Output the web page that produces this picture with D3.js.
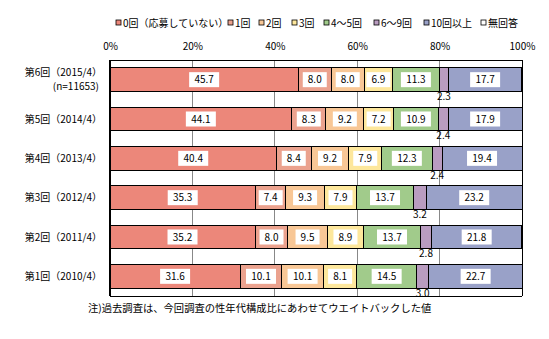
<!DOCTYPE html>
<html><head><meta charset="utf-8">
<script src="https://cdn.jsdelivr.net/npm/d3@7"></script>
<style>body{margin:0;background:#fff;}text{font-family:"Noto Sans CJK JP","DejaVu Sans",sans-serif;}</style>
</head><body>
<svg id="c" width="549" height="339"></svg>
<script>
const categories = ["第6回（2015/4）","第5回（2014/4）","第4回（2013/4）","第3回（2012/4）","第2回（2011/4）","第1回（2010/4）"];
const seriesNames = ["0回（応募していない）","1回","2回","3回","4～5回","6～9回","10回以上","無回答"];
const s0 = [45.7,44.1,40.4,35.3,35.2,31.6];
const s1 = [8.0,8.3,8.4,7.4,8.0,10.1];
const s2 = [8.0,9.2,9.2,9.3,9.5,10.1];
const s3 = [6.9,7.2,7.9,7.9,8.9,8.1];
const s4 = [11.3,10.9,12.3,13.7,13.7,14.5];
const s5 = [2.3,2.4,2.4,3.2,2.8,3.0];
const s6 = [17.7,17.9,19.4,23.2,21.8,22.7];
const s7 = [0,0,0,0,0,0];
const tickValues = [0,20,40,60,80,100];
const colors = ["#EC877A","#EBA28E","#F8C796","#FDE79C","#A1CB8B","#B99CC0","#99A1C8","#FFFFFF"];

const series = [s0,s1,s2,s3,s4,s5,s6,s7];
const data = categories.map((c,i)=>{const o={cat:c}; seriesNames.forEach((n,j)=>o[n]=series[j][i]); return o;});
const stacked = d3.stack().keys(seriesNames)(data);

const svg = d3.select("#c");
const L=110,R=522,T=60,B=296;
const x = d3.scaleLinear().domain([0,100]).range([L,R]);
const y = d3.scaleBand().domain(categories).range([T,B]).paddingInner(0.4).paddingOuter(0.2);

svg.append("g").selectAll("line").data(tickValues.filter(v=>v>0&&v<100)).join("line")
  .attr("x1",d=>x(d)).attr("x2",d=>x(d)).attr("y1",T).attr("y2",B)
  .attr("stroke","#888").attr("stroke-width",1).attr("shape-rendering","crispEdges");

const g = svg.append("g");
stacked.forEach((layer,j)=>{
  g.append("g").selectAll("rect").data(layer).join("rect")
    .attr("x",d=>x(d[0])).attr("width",d=>Math.max(0,x(d[1])-x(d[0])))
    .attr("y",d=>y(d.data.cat)).attr("height",y.bandwidth())
    .attr("fill",colors[j])
    .attr("stroke",d=>(d[1]-d[0])>0?"#000":"none").attr("stroke-width",1)
    .attr("shape-rendering","crispEdges");
});

const lab = svg.append("g").attr("font-size",10);
stacked.forEach((layer,j)=>{
  layer.forEach(d=>{
    const v=d[1]-d[0]; if(v<=0) return;
    const cx=(x(d[0])+x(d[1]))/2, cy=y(d.data.cat)+y.bandwidth()/2;
    const txt=v.toFixed(1);
    if(v>=5){
      const w = txt.length*6+6;
      lab.append("rect").attr("x",cx-w/2).attr("y",cy-7.5).attr("width",w).attr("height",15).attr("fill","#fff");
      lab.append("text").attr("x",cx).attr("y",cy).attr("dy","0.36em").attr("text-anchor","middle").text(txt);
    } else {
      lab.append("text").attr("x",cx).attr("y",y(d.data.cat)+y.bandwidth()+5).attr("dy","0.36em").attr("text-anchor","middle").text(txt);
    }
  });
});

svg.append("line").attr("x1",L).attr("x2",R).attr("y1",T).attr("y2",T).attr("stroke","#000").attr("shape-rendering","crispEdges");
svg.append("line").attr("x1",L).attr("x2",R).attr("y1",B).attr("y2",B).attr("stroke","#000").attr("shape-rendering","crispEdges");
svg.append("line").attr("x1",R).attr("x2",R).attr("y1",T).attr("y2",B).attr("stroke","#000").attr("shape-rendering","crispEdges");
svg.append("line").attr("x1",L).attr("x2",L).attr("y1",T).attr("y2",B).attr("stroke","#000").attr("stroke-width",2).attr("shape-rendering","crispEdges");

const ax = svg.append("g").attr("transform",`translate(0,${T})`)
  .call(d3.axisTop(x).tickValues(tickValues).tickFormat(d=>d+"%").tickSize(0).tickPadding(10));
ax.select(".domain").remove();
ax.selectAll("text").attr("font-size",10).attr("fill","#000").attr("font-family","\"Noto Sans CJK JP\",sans-serif");

const cl = svg.append("g").attr("font-size",10).attr("text-anchor","end");
categories.forEach((c,i)=>{
  const cy=y(c)+y.bandwidth()/2;
  if(i===0){
    cl.append("text").attr("x",102).attr("y",cy-7.5).attr("dy","0.36em").text(c);
    cl.append("text").attr("x",99).attr("y",cy+7).attr("dy","0.36em").text("(n=11653)");
  } else {
    cl.append("text").attr("x",102).attr("y",cy).attr("dy","0.36em").text(c);
  }
});

const legX=[116,228,259,292,324,374,424,481];
const lg = svg.append("g").attr("font-size",10);
seriesNames.forEach((n,j)=>{
  lg.append("rect").attr("x",legX[j]).attr("y",20).attr("width",5).attr("height",5).attr("fill",colors[j]).attr("stroke","#000").attr("stroke-width",0.8);
  lg.append("text").attr("x",legX[j]+7).attr("y",23).attr("dy","0.36em").text(n);
});

svg.append("text").attr("x",88).attr("y",308).attr("dy","0.36em").attr("font-size",10.3).text("注)過去調査は、今回調査の性年代構成比にあわせてウエイトバックした値");
</script>
</body></html>
